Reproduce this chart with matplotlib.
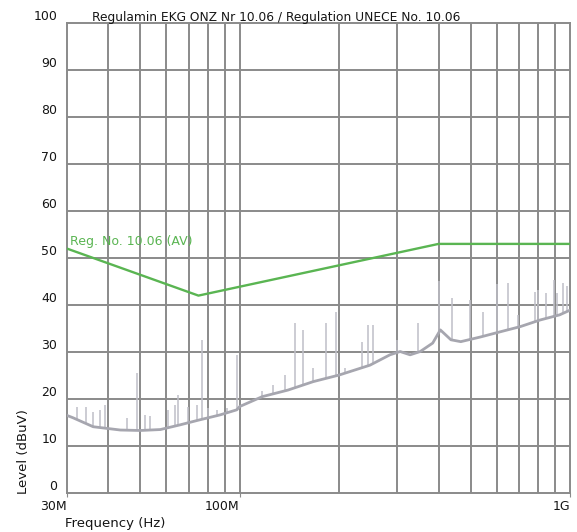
import numpy as np
import matplotlib
matplotlib.use("Agg")
import matplotlib.pyplot as plt
from matplotlib.ticker import FixedLocator, NullFormatter

# Measured noise floor (frequency in MHz, level in dBuV)
floor_mhz = [30, 31.3, 36, 43.5, 50, 57.5, 66, 75, 87, 98, 100, 117, 140, 167,
             200, 248, 285, 306, 328, 352, 384, 405, 436, 467, 536, 615, 707,
             811, 930, 1000]
floor_db = [16.5, 16.0, 14.1, 13.4, 13.3, 13.5, 14.5, 15.5, 16.6, 17.7, 18.4,
            20.5, 21.9, 23.7, 25.1, 27.2, 29.4, 30.1, 29.4, 30.1, 31.9, 34.7,
            32.6, 32.2, 33.2, 34.3, 35.4, 36.8, 37.9, 38.9]

# Narrowband emission peaks (MHz, dBuV)
spike_mhz = [32.2, 34.2, 35.9, 37.7, 39.0, 45.6, 49.0, 51.6, 53.5, 60.6, 63.6,
             65.0, 69.7, 74.3, 77.0, 80.4, 85.5, 91.8, 98.0, 117, 126, 137,
             147, 155, 167, 182, 196, 209, 234, 244, 254, 300, 346, 400, 440,
             498, 546, 600, 648, 697, 785, 800, 848, 893, 915, 950, 980]
spike_db = [18.4, 18.2, 17.3, 17.7, 18.7, 16.0, 25.5, 16.7, 16.3, 17.7, 18.7,
            20.8, 18.4, 18.7, 32.5, 18.0, 17.7, 18.0, 29.4, 21.6, 23.0, 25.1,
            36.2, 34.7, 26.6, 36.2, 38.6, 26.5, 32.2, 35.7, 35.7, 32.6, 36.2,
            45.0, 41.5, 41.0, 38.6, 44.5, 44.7, 37.9, 42.8, 43.2, 42.5, 45.3,
            42.5, 44.7, 44.0]

# Regulation UNECE No. 10.06 average limit
limit_mhz = [30, 75, 400, 1000]
limit_db = [52, 42, 53, 53]

ytick_vals = [0, 10, 20, 30, 40, 50, 60, 70, 80, 90, 100]
xtick_mhz = [30, 100, 1000]
xtick_labels = ["30M", "100M", "1G"]
vgrid_mhz = [40, 50, 60, 70, 80, 90, 100, 200, 300, 400, 500, 600, 700, 800, 900]

GRID = "#8a8a8a"
TRACE = "#a6a6af"
SPIKE = "#bfbfc7"
GREEN = "#5ab552"
TEXT = "#151515"

W, H = 577, 532
fig = plt.figure(figsize=(W / 100, H / 100), dpi=100)
ax = fig.add_axes([67 / W, 39 / H, 503 / W, 470 / H])
ax.set_xscale("log")
ax.set_xlim(30e6, 1000e6)
ax.set_ylim(0, 100)

# grid
for f in vgrid_mhz:
    ax.axvline(f * 1e6, color=GRID, lw=1.4, zorder=1)
for v in ytick_vals[1:-1]:
    ax.axhline(v, color=GRID, lw=1.4, zorder=1)
for s in ax.spines.values():
    s.set_color(GRID)
    s.set_linewidth(1.4)

# measured trace
fl_hz = np.array(floor_mhz) * 1e6
sp_hz = np.array(spike_mhz) * 1e6
base_at_spike = np.interp(np.log10(sp_hz), np.log10(fl_hz), floor_db)
ax.vlines(sp_hz, base_at_spike, spike_db, color=SPIKE, lw=1.1, zorder=2)
ax.plot(fl_hz, floor_db, color=TRACE, lw=2.0, zorder=3)

# limit line
ax.plot(np.array(limit_mhz) * 1e6, limit_db, color=GREEN, lw=1.7, zorder=4)
fig.text(70 / W, 1 - 242 / H, "Reg. No. 10.06 (AV)", color=GREEN,
         fontsize=9, ha="left", va="center")

# ticks
ax.xaxis.set_major_locator(FixedLocator([m * 1e6 for m in xtick_mhz]))
ax.xaxis.set_minor_locator(FixedLocator([]))
ax.xaxis.set_minor_formatter(NullFormatter())
ax.set_xticklabels(xtick_labels)
ax.set_yticks(ytick_vals)
ax.set_yticklabels([str(v) for v in ytick_vals])
ax.tick_params(axis="x", length=3, color=GRID, pad=2, labelsize=9,
               labelcolor=TEXT)
ax.tick_params(axis="y", length=0, pad=7, labelsize=9, labelcolor=TEXT)
for lab in ax.get_xticklabels():
    lab.set_ha("right")
for lab in ax.get_yticklabels():
    lab.set_va("bottom")

fig.text(92 / W, 1 - 17 / H,
         "Regulamin EKG ONZ Nr 10.06 / Regulation UNECE No. 10.06",
         ha="left", va="center", fontsize=8.8, color=TEXT)
fig.text(65 / W, 1 - 523 / H, "Frequency (Hz)", ha="left", va="center",
         fontsize=9.5, color=TEXT)
fig.text(24 / W, 1 - 452 / H, "Level (dBuV)", ha="center", va="center",
         rotation=90, fontsize=9.5, color=TEXT)

fig.savefig("out.png", dpi=100)
